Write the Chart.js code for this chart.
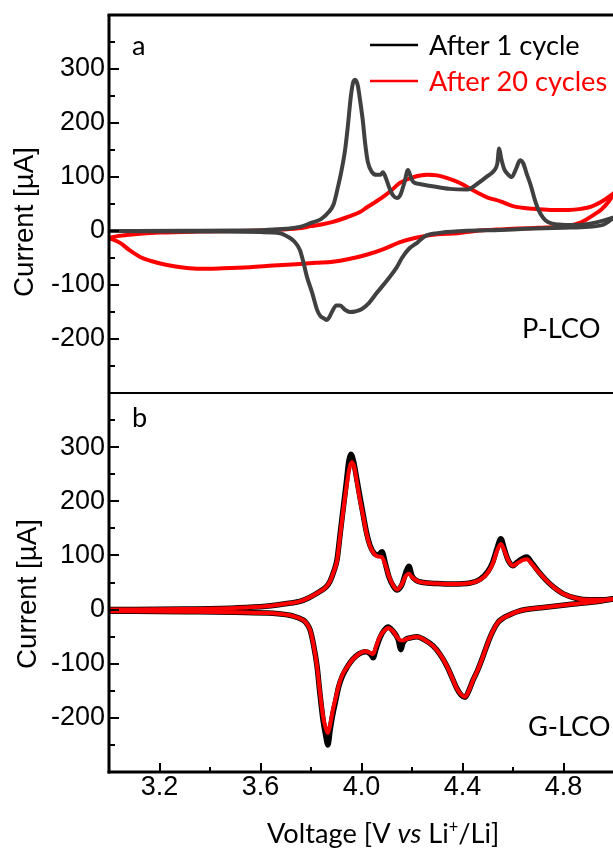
<!DOCTYPE html>
<html><head><meta charset="utf-8">
<script src="https://cdn.jsdelivr.net/npm/chart.js@4.4.0/dist/chart.umd.min.js"></script>
<style>
html,body{margin:0;padding:0;background:#fff;overflow:hidden;width:613px;height:849px}
#wrap{position:relative;width:613px;height:849px;overflow:hidden;background:#fff}
canvas{position:absolute;left:0;top:0}
</style></head>
<body><div id="wrap"><canvas id="cb" width="614" height="849"></canvas><canvas id="ca" width="614" height="394"></canvas></div>
<script>
// ---------- tick labels ----------
const xTickLabels = ['3.2','3.6','4.0','4.4','4.8'];
const yTickLabels = ['-200','-100','0','100','200','300'];
const legendLabels = ['After 1 cycle','After 20 cycles'];
const panelLabels = ['a','b'];
const sampleLabels = ['P-LCO','G-LCO'];

// ---------- Panel a (P-LCO), After 1 cycle ----------
const aBlkAnV = [3.0,3.3,3.5,3.62,3.7,3.76,3.8,3.84,3.87,3.89,3.905,3.92,3.935,3.945,3.958,3.968,3.975,3.985,3.995,4.005,4.015,4.025,4.04,4.06,4.075,4.085,4.095,4.11,4.125,4.14,4.155,4.17,4.184,4.195,4.205,4.23,4.28,4.35,4.42,4.46,4.5,4.525,4.538,4.545,4.553,4.565,4.58,4.595,4.612,4.628,4.64,4.655,4.67,4.685,4.7,4.72,4.74,4.78,4.85,4.92,5.0];
const aBlkAnI = [0,0.5,1,2,4,8,15,22,35,50,78,110,150,190,250,277,280,270,240,205,160,128,110,104,104,109,100,80,66,61,68,90,113,100,91,87,83,78,77,88,102,112,125,153,135,115,105,100,115,131,126,105,85,60,40,24,16,12,11,15,25];
const aBlkCaV = [5.0,4.96,4.9,4.8,4.65,4.55,4.4,4.3,4.25,4.22,4.19,4.16,4.14,4.1,4.06,4.03,4.0,3.975,3.954,3.935,3.915,3.9,3.885,3.872,3.863,3.852,3.838,3.824,3.805,3.784,3.77,3.756,3.735,3.717,3.677,3.6,3.4,3.0];
const aBlkCaI = [25,12,8,6,4,2,0,-4,-10,-22,-32,-50,-67,-92,-115,-133,-145,-149,-150,-146,-138,-138,-148,-160,-165,-162,-158,-146,-115,-85,-58,-35,-20,-13,-4,-2,-1,0];

// ---------- Panel a (P-LCO), After 20 cycles ----------
const aRedAnV = [3.0,3.04,3.1,3.2,3.35,3.5,3.65,3.75,3.8,3.85,3.887,3.94,3.994,4.022,4.05,4.085,4.12,4.152,4.2,4.26,4.3,4.34,4.39,4.42,4.46,4.5,4.55,4.6,4.68,4.75,4.82,4.87,4.91,4.95,5.0];
const aRedAnI = [-13,-9,-6,-3,-1,0,2,5,9,13,17,25,35,44,52,63,76,89,99,104,103,98,89,81,71,62,55,46,41,39,39,41,45,54,70];
const aRedCaV = [5.0,4.98,4.95,4.92,4.87,4.82,4.7,4.55,4.45,4.38,4.3,4.22,4.15,4.09,4.02,3.95,3.887,3.82,3.756,3.65,3.558,3.45,3.36,3.3,3.23,3.17,3.123,3.08,3.044,3.0];
const aRedCaI = [70,55,40,30,16,10,6,3,0,-4,-6,-12,-21,-33,-44,-52,-57,-59,-61,-64,-67,-69,-70,-68,-63,-56,-48,-35,-22,-13];

// ---------- Panel b (G-LCO), After 20 cycles ----------
const bRedAnV = [3.0,3.3,3.5,3.62,3.72,3.756,3.792,3.83,3.86,3.875,3.89,3.903,3.915,3.927,3.94,3.952,3.962,3.972,3.982,3.995,4.008,4.02,4.034,4.05,4.065,4.08,4.095,4.109,4.125,4.141,4.16,4.175,4.188,4.2,4.22,4.244,4.3,4.36,4.43,4.47,4.5,4.52,4.538,4.552,4.565,4.58,4.6,4.615,4.64,4.655,4.675,4.7,4.73,4.76,4.8,4.85,4.9,4.95,5.0];
const bRedAnI = [0,1,3,6,12,15,22,32,42,52,70,90,135,180,225,260,272,262,235,200,170,140,117,103,98,97,82,61,45,37,47,62,66,60,53,50,48,47,49,55,68,85,110,121,110,92,81,85,92,93,84,70,55,42,29,21,18,18,20];
const bRedCaV = [5.0,4.95,4.9,4.814,4.72,4.65,4.616,4.585,4.56,4.54,4.52,4.5,4.48,4.46,4.442,4.425,4.41,4.395,4.378,4.36,4.339,4.31,4.283,4.25,4.22,4.195,4.175,4.164,4.152,4.141,4.125,4.105,4.09,4.073,4.058,4.046,4.035,4.014,3.99,3.965,3.945,3.925,3.91,3.898,3.887,3.876,3.867,3.858,3.848,3.836,3.824,3.81,3.796,3.78,3.768,3.73,3.65,3.5,3.3,3.0];
const bRedCaI = [20,16,13,9,4,0,-4,-10,-16,-24,-40,-62,-88,-112,-130,-150,-161,-157,-146,-127,-105,-82,-67,-56,-50,-52,-55,-57,-56,-51,-40,-34,-39,-50,-68,-82,-80,-77,-82,-92,-105,-120,-140,-163,-185,-212,-228,-218,-198,-155,-105,-65,-37,-24,-19,-12,-7,-5,-4,-3];

// ---------- Panel b (G-LCO), After 1 cycle ----------
const bBlkAnV = [3.0,3.3,3.5,3.62,3.72,3.756,3.792,3.83,3.86,3.875,3.89,3.903,3.915,3.927,3.94,3.95,3.958,3.968,3.98,3.995,4.008,4.02,4.034,4.05,4.065,4.081,4.095,4.109,4.125,4.141,4.16,4.178,4.188,4.2,4.22,4.244,4.3,4.36,4.43,4.47,4.5,4.52,4.538,4.552,4.565,4.58,4.6,4.615,4.64,4.655,4.675,4.7,4.73,4.76,4.8,4.85,4.9,4.95,5.0];
const bBlkAnI = [0,1,3,6,12,15,22,32,42,52,70,92,138,185,235,275,287,275,245,205,172,142,118,104,100,107,84,60,44,36,46,72,80,62,53,50,48,47,49,56,70,88,115,131,113,92,81,87,95,97,86,71,55,42,29,21,18,18,20];
const bBlkCaV = [5.0,4.95,4.9,4.814,4.72,4.65,4.616,4.585,4.56,4.54,4.52,4.5,4.48,4.46,4.442,4.425,4.41,4.395,4.378,4.36,4.339,4.31,4.283,4.25,4.22,4.195,4.175,4.164,4.156,4.145,4.125,4.105,4.09,4.073,4.058,4.046,4.035,4.014,3.99,3.965,3.945,3.925,3.91,3.898,3.887,3.876,3.867,3.858,3.848,3.836,3.824,3.81,3.796,3.78,3.768,3.73,3.65,3.5,3.3,3.0];
const bBlkCaI = [20,16,13,9,4,0,-4,-10,-16,-24,-40,-62,-88,-112,-130,-150,-162,-158,-146,-127,-105,-82,-67,-56,-50,-52,-55,-62,-74,-55,-40,-32,-38,-52,-72,-89,-82,-78,-82,-92,-105,-122,-142,-168,-192,-222,-250,-232,-205,-158,-105,-65,-37,-24,-19,-12,-7,-5,-4,-3];

// ---------- helpers ----------
const NUM_FONT = '"Liberation Sans", Arial, sans-serif';
const TXT_FONT = 'Lato, "Noto Sans", sans-serif';
const GREY = '#404040', RED = '#ff0000', BLACK = '#000000';

function pts(vs, is) { return vs.map((v, k) => ({x: v, y: is[k]})); }
function ds(vs, is, color, width) {
  return { data: pts(vs, is), borderColor: color, borderWidth: width, showLine: true,
           pointRadius: 0, fill: false, cubicInterpolationMode: 'monotone', borderJoinStyle: 'round', borderCapStyle: 'round' };
}
const mctx = document.createElement('canvas').getContext('2d');
function fitSize(text, target, family, style) {
  mctx.font = (style || '') + ' 100px ' + family;
  return 100 * target / mctx.measureText(text).width;
}
const txtSize = fitSize(legendLabels[1], 178, TXT_FONT);
const yTitle = 'Current [µA]';
const yTitleSize = fitSize(yTitle, 150, NUM_FONT);

function drawYTicks(ctx, ca, y) {
  ctx.lineWidth = 2;
  y.ticks.forEach(t => {
    if (t.value <= y.min || t.value >= y.max) return;
    const py = Math.round(y.getPixelForValue(t.value));
    const major = yTickLabels.includes(String(t.value));
    ctx.beginPath(); ctx.moveTo(ca.left, py); ctx.lineTo(ca.left + (major ? 10 : 6), py); ctx.stroke();
  });
}
function drawYTitle(ctx, x, yc) {
  ctx.save();
  ctx.translate(x, yc); ctx.rotate(-Math.PI / 2);
  ctx.font = yTitleSize.toFixed(1) + 'px ' + NUM_FONT;
  ctx.fillStyle = BLACK; ctx.textAlign = 'center'; ctx.textBaseline = 'alphabetic';
  ctx.fillText(yTitle, 0, 0);
  ctx.restore();
}
function txt(ctx, s, x, y, color, align) {
  ctx.font = txtSize.toFixed(1) + 'px ' + TXT_FONT;
  ctx.fillStyle = color; ctx.textAlign = align || 'left'; ctx.textBaseline = 'alphabetic';
  ctx.fillText(s, x, y);
}

const panelA = {
  id: 'panelA',
  afterDraw(chart) {
    const {ctx, chartArea: ca, scales: {y}} = chart;
    ctx.save();
    ctx.strokeStyle = BLACK;
    ctx.lineWidth = 3;
    ctx.beginPath(); ctx.moveTo(ca.left - 1.5, ca.top); ctx.lineTo(ca.right + 2, ca.top); ctx.stroke();
    ctx.beginPath(); ctx.moveTo(ca.left, ca.top); ctx.lineTo(ca.left, ca.bottom); ctx.stroke();
    ctx.lineWidth = 2;
    ctx.beginPath(); ctx.moveTo(ca.left, ca.bottom); ctx.lineTo(ca.right + 2, ca.bottom); ctx.stroke();
    drawYTicks(ctx, ca, y);
    drawYTitle(ctx, 33, 222);
    // legend
    ctx.lineWidth = 2.5;
    ctx.strokeStyle = BLACK; ctx.beginPath(); ctx.moveTo(370, 45); ctx.lineTo(418, 45); ctx.stroke();
    ctx.strokeStyle = RED; ctx.beginPath(); ctx.moveTo(370, 81); ctx.lineTo(418, 81); ctx.stroke();
    txt(ctx, legendLabels[0], 429, 55, BLACK);
    txt(ctx, legendLabels[1], 429, 91, RED);
    txt(ctx, panelLabels[0], 132, 55, BLACK);
    txt(ctx, sampleLabels[0], 522, 338, BLACK);
    ctx.restore();
  }
};

const panelB = {
  id: 'panelB',
  afterDraw(chart) {
    const {ctx, chartArea: ca, scales: {x, y}} = chart;
    ctx.save();
    ctx.strokeStyle = BLACK;
    ctx.lineWidth = 3;
    ctx.beginPath(); ctx.moveTo(ca.left, ca.top); ctx.lineTo(ca.left, ca.bottom + 1.5); ctx.stroke();
    ctx.beginPath(); ctx.moveTo(ca.left - 1.5, ca.bottom); ctx.lineTo(ca.right + 2, ca.bottom); ctx.stroke();
    drawYTicks(ctx, ca, y);
    ctx.lineWidth = 2;
    x.ticks.forEach(t => {
      if (t.value <= x.min + 1e-6 || t.value >= x.max - 1e-6) return;
      const px = Math.round(x.getPixelForValue(t.value));
      const major = xTickLabels.includes(t.value.toFixed(1));
      ctx.beginPath(); ctx.moveTo(px, ca.bottom); ctx.lineTo(px, ca.bottom - (major ? 9 : 5)); ctx.stroke();
    });
    drawYTitle(ctx, 36, 594);
    txt(ctx, panelLabels[1], 132, 427, BLACK);
    txt(ctx, sampleLabels[1], 528, 736, BLACK);
    // x title with italic "vs" and superscript "+"
    const parts = [['Voltage [V ', '', 1, 0], ['vs', 'italic', 1, 0], [' Li', '', 1, 0], ['+', '', 0.6, 0.38], ['/Li]', '', 1, 0]];
    const base = 25;
    let total = 0;
    parts.forEach(p => { mctx.font = p[1] + ' ' + (base * p[2]) + 'px ' + TXT_FONT; total += mctx.measureText(p[0]).width; });
    const k = 232 / total;
    let cx = 267;
    ctx.fillStyle = BLACK; ctx.textAlign = 'left'; ctx.textBaseline = 'alphabetic';
    parts.forEach(p => {
      const s = base * k * p[2];
      ctx.font = p[1] + ' ' + s.toFixed(1) + 'px ' + TXT_FONT;
      ctx.fillText(p[0], cx, 843 - base * k * p[3]);
      cx += ctx.measureText(p[0]).width;
    });
    ctx.restore();
  }
};

function options(bottom) {
  const xScale = {
    type: 'linear', min: 3.0, max: 5.0, display: bottom,
    grid: {display: false, drawTicks: false}, border: {display: false},
    ticks: { stepSize: 0.2, autoSkip: false, maxRotation: 0, padding: -1, color: BLACK,
             font: {family: NUM_FONT, size: 27},
             callback: v => { const s = Number(v).toFixed(1); return xTickLabels.includes(s) ? s : ''; } }
  };
  if (bottom) xScale.afterFit = s => { s.height = 77; s.paddingLeft = 0; s.paddingRight = 0; };
  return {
    responsive: false, maintainAspectRatio: false, animation: false, devicePixelRatio: 1,
    layout: { padding: bottom ? {top: 393, right: 0, bottom: 0, left: 0} : {top: 15, right: 0, bottom: 1, left: 0} },
    plugins: { legend: {display: false}, tooltip: {enabled: false} },
    scales: {
      x: xScale,
      y: {
        type: 'linear', min: -300, max: 400,
        grid: {display: false, drawTicks: false}, border: {display: false},
        ticks: { stepSize: 50, autoSkip: false, padding: 4, color: BLACK,
                 font: {family: NUM_FONT, size: 27},
                 callback: v => { const s = String(Math.round(v)); return yTickLabels.includes(s) ? s : ''; } },
        afterFit: s => { s.width = 109; s.paddingTop = 0; s.paddingBottom = 0; }
      }
    }
  };
}

new Chart(document.getElementById('ca'), {
  type: 'scatter',
  data: { datasets: [
    ds(aBlkAnV, aBlkAnI, GREY, 4), ds(aBlkCaV, aBlkCaI, GREY, 4),
    ds(aRedAnV, aRedAnI, RED, 4), ds(aRedCaV, aRedCaI, RED, 4)
  ] },
  options: options(false),
  plugins: [panelA]
});
new Chart(document.getElementById('cb'), {
  type: 'scatter',
  data: { datasets: [
    ds(bRedAnV, bRedAnI, RED, 4), ds(bRedCaV, bRedCaI, RED, 4),
    ds(bBlkAnV, bBlkAnI, BLACK, 5.5), ds(bBlkCaV, bBlkCaI, BLACK, 5.5)
  ] },
  options: options(true),
  plugins: [panelB]
});
</script>
</body></html>
